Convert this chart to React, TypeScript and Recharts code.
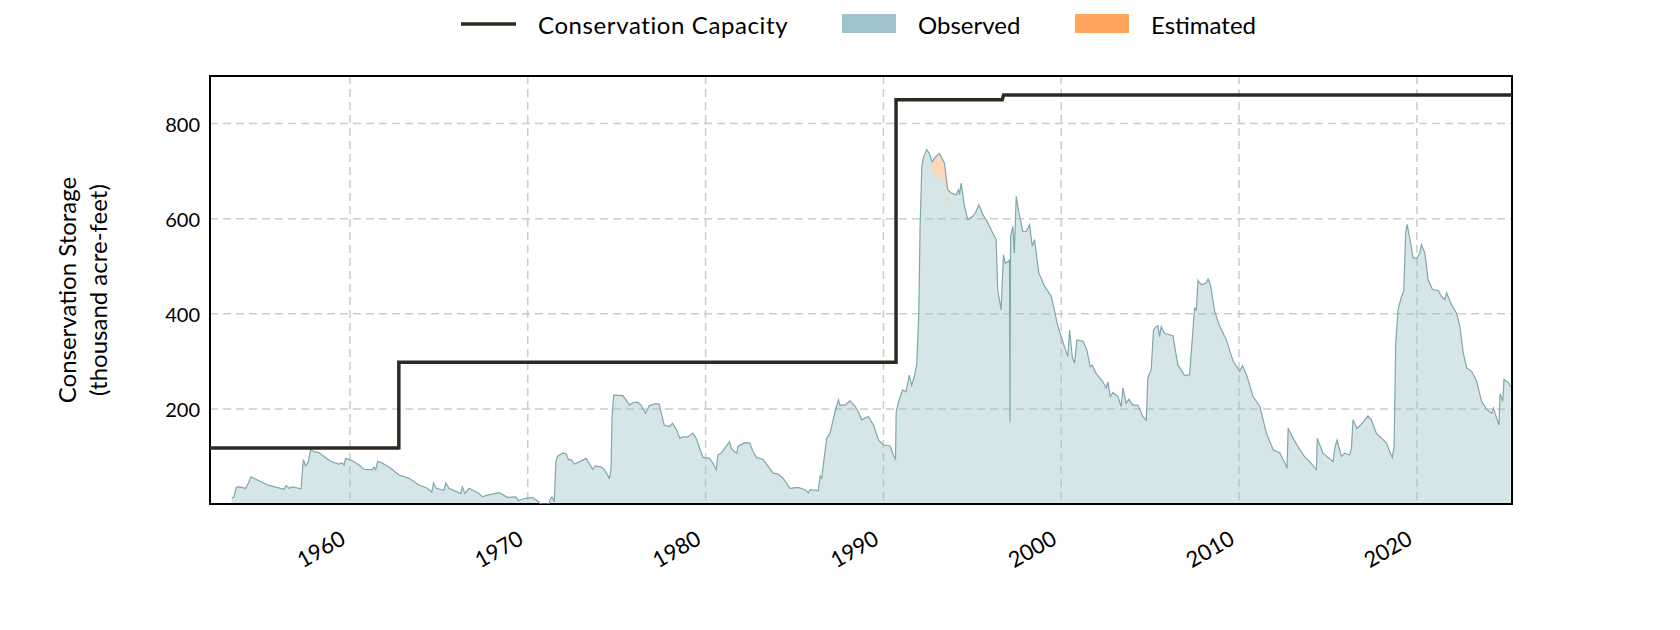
import React from 'react';
import { ComposedChart, Area, Line, XAxis, YAxis, CartesianGrid, ReferenceArea } from 'recharts';

// ---- data (decimal years, thousand acre-feet) ----
const obsYears = [
  1953.35, 1953.48, 1953.61, 1953.76, 1954.14, 1954.29, 1954.44, 1954.7, 1955.45, 1956.29,
  1956.42, 1956.57, 1956.76, 1957.25, 1957.38, 1957.51, 1957.66, 1957.79, 1957.98, 1958.26,
  1958.54, 1958.92, 1959.39, 1959.54, 1959.67, 1959.76, 1960.14, 1960.51, 1960.79, 1961.26,
  1961.35, 1961.45, 1961.56, 1961.82, 1962.29, 1962.76, 1963.32, 1963.45, 1963.88, 1964.35,
  1964.6, 1964.7, 1964.85, 1965.29, 1965.39, 1965.57, 1966.23, 1966.32, 1966.47, 1966.7,
  1967.26, 1967.45, 1967.67, 1968.39, 1968.85, 1969.32, 1969.47, 1969.7, 1969.88, 1970.26,
  1970.54, 1970.73, 1971.2, 1971.24, 1971.36, 1971.49, 1971.58, 1971.67, 1971.96, 1972.15,
  1972.3, 1972.43, 1972.62, 1972.81, 1973.28, 1973.43, 1973.65, 1973.8, 1974.12, 1974.31,
  1974.59, 1974.68, 1974.74, 1974.83, 1975.34, 1975.53, 1975.72, 1975.9, 1976.18, 1976.37,
  1976.62, 1976.84, 1977.2, 1977.39, 1977.67, 1977.96, 1978.14, 1978.37, 1978.56, 1978.71,
  1979.0, 1979.28, 1979.47, 1979.85, 1980.22, 1980.41, 1980.5, 1980.6, 1980.69, 1980.88,
  1981.35, 1981.44, 1981.63, 1981.76, 1981.82, 1982.19, 1982.48, 1982.67, 1982.86, 1983.23,
  1983.52, 1983.8, 1984.09, 1984.37, 1984.74, 1985.21, 1985.59, 1985.78, 1985.87, 1986.34,
  1986.44, 1986.53, 1986.66, 1986.81, 1987.0, 1987.28, 1987.47, 1987.56, 1987.84, 1988.12,
  1988.4, 1988.59, 1988.78, 1989.15, 1989.44, 1989.72, 1990.0, 1990.38, 1990.56, 1990.68,
  1990.72, 1990.86, 1991.08, 1991.27, 1991.46, 1991.59, 1991.74, 1991.88, 1991.99, 1992.06,
  1992.16, 1992.27, 1992.44, 1992.59, 1992.74, 1992.96, 1993.15, 1993.43, 1993.62, 1993.81,
  1994.09, 1994.22, 1994.28, 1994.37, 1994.56, 1994.75, 1995.03, 1995.21, 1995.36, 1995.46,
  1995.59, 1995.78, 1996.15, 1996.34, 1996.43, 1996.62, 1996.75, 1996.86, 1997.09, 1997.12,
  1997.15, 1997.28, 1997.36, 1997.47, 1997.62, 1997.84, 1998.03, 1998.22, 1998.37, 1998.5,
  1998.74, 1999.06, 1999.44, 1999.81, 2000.18, 2000.37, 2000.47, 2000.62, 2000.75, 2000.88,
  2001.22, 2001.44, 2001.63, 2001.74, 2001.97, 2002.34, 2002.53, 2002.62, 2002.76, 2002.91,
  2003.19, 2003.37, 2003.47, 2003.65, 2003.8, 2004.03, 2004.31, 2004.59, 2004.78, 2004.87,
  2005.06, 2005.19, 2005.34, 2005.44, 2005.53, 2005.62, 2005.81, 2006.28, 2006.56, 2006.94,
  2007.22, 2007.31, 2007.5, 2007.6, 2007.69, 2007.88, 2008.16, 2008.26, 2008.39, 2008.63,
  2008.92, 2009.29, 2009.67, 2010.04, 2010.19, 2010.42, 2010.79, 2011.17, 2011.54, 2011.92,
  2012.29, 2012.57, 2012.7, 2012.76, 2013.04, 2013.42, 2013.69, 2013.97, 2014.35, 2014.4,
  2014.72, 2015.29, 2015.38, 2015.51, 2015.76, 2015.94, 2016.22, 2016.32, 2016.41, 2016.64,
  2016.88, 2017.25, 2017.44, 2017.72, 2018.29, 2018.47, 2018.62, 2018.72, 2018.81, 2018.94,
  2019.13, 2019.26, 2019.37, 2019.45, 2019.6, 2019.79, 2020.01, 2020.16, 2020.26, 2020.45,
  2020.63, 2020.88, 2021.2, 2021.38, 2021.57, 2021.67, 2021.95, 2022.23, 2022.42, 2022.61,
  2022.8, 2023.08, 2023.36, 2023.64, 2023.93, 2024.21, 2024.3, 2024.49, 2024.62, 2024.68,
  2024.83, 2024.9, 2025.15, 2025.28,
];
const obsValues = [
  12, 15, 35, 36, 33, 44, 57, 52, 39, 31,
  39, 33, 36, 32, 93, 80, 89, 114, 110, 108,
  100, 90, 84, 87, 82, 96, 91, 82, 73, 72,
  78, 72, 90, 86, 75, 61, 54, 51, 40, 33,
  25, 44, 33, 29, 44, 33, 22, 36, 22, 33,
  22, 15, 18, 24, 14, 15, 7, 10, 12, 14,
  7, 0, 0, 8, 15, 5, 89, 100, 107, 106,
  93, 94, 84, 87, 96, 87, 73, 80, 78, 72,
  54, 72, 184, 229, 228, 219, 208, 213, 214, 208,
  191, 207, 211, 210, 166, 163, 170, 156, 138, 141,
  141, 149, 138, 98, 96, 86, 79, 72, 103, 107,
  131, 117, 110, 107, 121, 129, 128, 110, 98, 94,
  79, 65, 63, 54, 33, 35, 30, 23, 30, 28,
  59, 54, 94, 138, 149, 194, 219, 208, 208, 217,
  206, 194, 177, 184, 166, 135, 124, 122, 103, 95,
  194, 216, 240, 236, 271, 250, 268, 296, 401, 577,
  710, 731, 745, 737, 720, 731, 737, 717, 661, 654,
  650, 661, 650, 675, 626, 598, 605, 615, 629, 622,
  608, 598, 570, 556, 450, 408, 524, 506, 513, 173,
  563, 584, 528, 647, 612, 573, 573, 587, 542, 556,
  486, 458, 437, 374, 331, 310, 366, 310, 296, 345,
  342, 324, 289, 292, 274, 257, 244, 257, 226, 234,
  226, 205, 244, 212, 220, 208, 208, 184, 176, 265,
  283, 366, 373, 375, 352, 373, 359, 354, 293, 270,
  272, 317, 412, 408, 470, 461, 465, 473, 461, 405,
  373, 345, 300, 279, 291, 272, 226, 205, 149, 114,
  108, 86, 75, 159, 138, 114, 99, 89, 72, 138,
  107, 89, 117, 134, 100, 107, 103, 117, 177, 159,
  168, 185, 177, 149, 128, 110, 98, 121, 338, 408,
  436, 447, 570, 588, 559, 517, 517, 528, 545, 528,
  472, 451, 449, 437, 430, 444, 419, 401, 373, 317,
  286, 279, 258, 216, 199, 191, 202, 180, 166, 232,
  216, 262, 255, 246,
];

const estYears = [1992.74, 1992.82, 1993.05, 1993.32, 1993.52, 1993.62, 1993.72];
const estLow = [718, 682, 697, 682, 668, 645, 626];
const estHigh = [720, 728, 734, 724, 692, 661, 640];

const capYears = [1952.13, 1962.72, 1962.75, 1962.75, 1990.71, 1990.71, 1996.68, 1996.76, 2025.35];
const capValues = [118, 118, 115, 298, 298, 850, 850, 860, 860];

const xTicks = [1960, 1970, 1980, 1990, 2000, 2010, 2020];
const yTicks = [200, 400, 600, 800];
const xDomain = [1952.13, 2025.35];
const yDomain = [0, 900];

const legendLabels = ['Conservation Capacity', 'Observed', 'Estimated'];
const yLabelLines = ['Conservation Storage', '(thousand acre-feet)'];

const obsData = obsYears.map((t, i) => ({ t, v: obsValues[i] }));
const estData = estYears.map((t, i) => ({ t, range: [estLow[i], estHigh[i]] }));
const capData = capYears.map((t, i) => ({ t, c: capValues[i] }));

const FONT = 'Lato, "Open Sans", sans-serif';

const XTick = (props: any) => {
  const { x, payload } = props;
  const ax = x - 3;
  const ay = 543;
  return (
    <text x={ax} y={ay} transform={`rotate(-30, ${ax}, ${ay})`} textAnchor="end"
      fontFamily={FONT} fontSize={22} fill="#000">{payload.value}</text>
  );
};

const YTick = (props: any) => {
  const { y, payload } = props;
  return (
    <text x={200} y={y} textAnchor="end" dominantBaseline="central"
      fontFamily={FONT} fontSize={20} fill="#000">{payload.value}</text>
  );
};

export default function App() {
  return (
    <div style={{ position: 'absolute', left: 0, top: 0, width: 1680, height: 630, background: '#fff' }}>
      <ComposedChart width={1680} height={630} data={obsData}
        margin={{ top: 76, right: 168, bottom: 66, left: 110 }}>
        <CartesianGrid stroke="#cccccc" strokeWidth={1.5} strokeDasharray="8 5" />
        <XAxis type="number" dataKey="t" domain={xDomain} ticks={xTicks} interval={0}
          allowDataOverflow tickLine={false} axisLine={false} height={60} tick={<XTick />} />
        <YAxis type="number" domain={yDomain} ticks={yTicks} interval={0}
          allowDataOverflow tickLine={false} axisLine={false} width={100} tick={<YTick />} />
        <Area data={obsData} dataKey="v" type="linear" fill="#9cc1c8" fillOpacity={0.42}
          stroke="none" isAnimationActive={false} />
        <Area data={estData} dataKey="range" type="linear" fill="#fdd8b8" fillOpacity={1}
          stroke="none" isAnimationActive={false} />
        <Line data={obsData} dataKey="v" type="linear" stroke="#7fa7ae" strokeWidth={1.2}
          dot={false} activeDot={false} isAnimationActive={false} />
        <Line data={capData} dataKey="c" type="linear" stroke="#2e2a22" strokeWidth={3.5}
          dot={false} activeDot={false} isAnimationActive={false} />
        <ReferenceArea x1={xDomain[0]} x2={xDomain[1]} y1={yDomain[0]} y2={yDomain[1]}
          fill="none" fillOpacity={0} stroke="#000" strokeWidth={2} ifOverflow="visible" />
      </ComposedChart>
      <svg width={1680} height={630} style={{ position: 'absolute', left: 0, top: 0, pointerEvents: 'none' }}>
        <line x1={461} y1={24} x2={516} y2={24} stroke="#2e2a22" strokeWidth={3.5} />
        <text x={538} y={24} dominantBaseline="central" fontFamily={FONT} fontSize={24} letterSpacing={0.6} fill="#000">{legendLabels[0]}</text>
        <rect x={842} y={14} width={54} height={19} fill="#9fc3ca" />
        <text x={918} y={24} dominantBaseline="central" fontFamily={FONT} fontSize={24} fill="#000">{legendLabels[1]}</text>
        <rect x={1075} y={14} width={54} height={19} fill="#ffa65c" />
        <text x={1151} y={24} dominantBaseline="central" fontFamily={FONT} fontSize={24} fill="#000">{legendLabels[2]}</text>
        <text x={66} y={290} transform="rotate(-90, 66, 290)" textAnchor="middle" dominantBaseline="central"
          fontFamily={FONT} fontSize={24} fill="#000">{yLabelLines[0]}</text>
        <text x={97} y={290} transform="rotate(-90, 97, 290)" textAnchor="middle" dominantBaseline="central"
          fontFamily={FONT} fontSize={24} fill="#000">{yLabelLines[1]}</text>
      </svg>
    </div>
  );
}
